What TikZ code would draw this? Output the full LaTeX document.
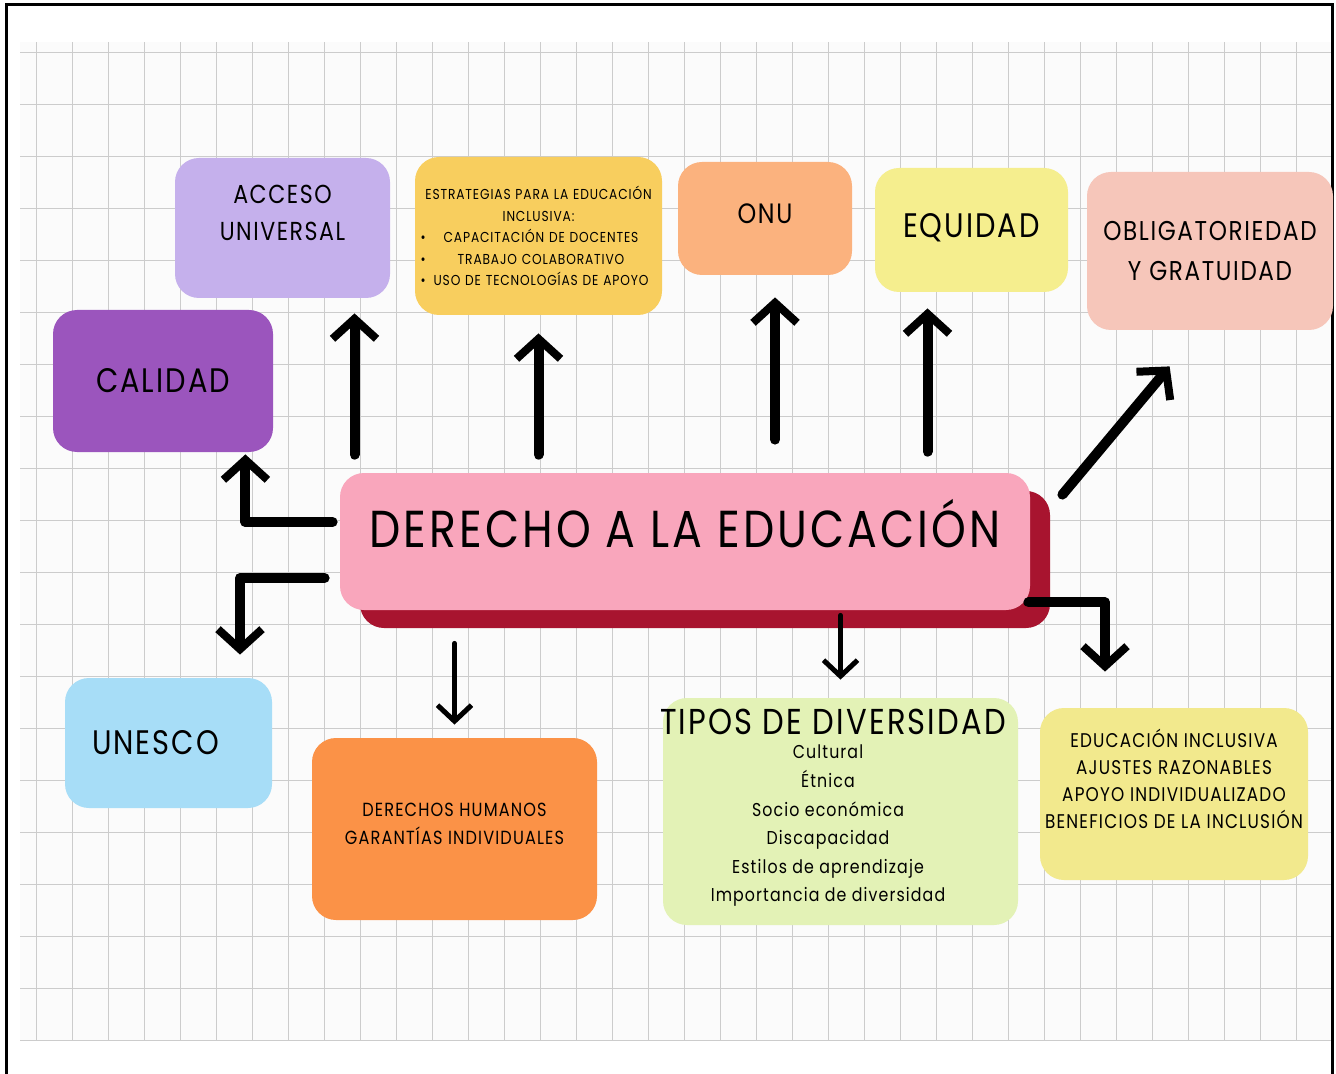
\documentclass[tikz,border=0pt]{standalone}
\usepackage{fontspec}
\newfontfamily\mano[LetterSpace=6,FakeStretch=0.85]{Poppins}
\usetikzlibrary{arrows.meta,shadows}

\definecolor{lavanda}{HTML}{C5B0EC}
\definecolor{mostaza}{HTML}{F8CE5E}
\definecolor{durazno}{HTML}{FBB27E}
\definecolor{limon}{HTML}{F5EE8E}
\definecolor{salmon}{HTML}{F6C6BA}
\definecolor{morado}{HTML}{9B55BD}
\definecolor{rosa}{HTML}{F9A6BC}
\definecolor{vino}{HTML}{A8142F}
\definecolor{celeste}{HTML}{A7DDF7}
\definecolor{naranja}{HTML}{FB9247}
\definecolor{pistacho}{HTML}{E3F2B6}
\definecolor{crema}{HTML}{F2E98D}

\tikzset{
  caja/.style={rounded corners=12pt, align=center, inner sep=2pt, text=black},
  flecha/.style={line width=5pt, line cap=round, line join=round,
    -{Straight Barb[length=10pt,width=22pt,line width=4pt]}},
  flechita/.style={line width=2.5pt, line cap=round,
    -{Straight Barb[length=8pt,width=17pt,line width=2.5pt]}}
}
\newcommand{\tam}[2]{\mano\fontsize{#1}{#2}\selectfont}
% sube el texto dentro de la caja
\newcommand{\subir}[2]{\raisebox{#1}{\begin{tabular}[b]{@{}c@{}}#2\end{tabular}}}

\begin{document}
\begin{tikzpicture}[x=0.5pt,y=-0.5pt]
\useasboundingbox (0,0) rectangle (1336,1074);
% hoja cuadriculada
\fill[gray!3] (20,42) rectangle (1333,1040);
\draw[gray!40, line width=0.4pt, xstep=18pt, ystep=26pt] (20,42) grid (1333,1040);
\draw[line width=1.5pt] (6,1074) -- (6,5) -- (1332,5) -- (1332,1074);

% cajas de arriba
\node[caja, fill=lavanda, minimum width=107.5pt, minimum height=70pt, font=\tam{13}{18.5}] (acceso) at (282.5,228) {\subir{18.5pt}{ACCESO\\UNIVERSAL}};
\node[caja, fill=mostaza, minimum width=123.5pt, minimum height=79pt, text width=118pt, font=\tam{7.2}{10.75}] (estrategias) at (538.5,236)
  {ESTRATEGIAS PARA LA EDUCACIÓN\\INCLUSIVA:\\
   \makebox[\linewidth]{•\hfill CAPACITACIÓN DE DOCENTES\hfill\mbox{}}\\
   \makebox[\linewidth]{•\hfill TRABAJO COLABORATIVO\hfill\mbox{}}\\
   \makebox[\linewidth]{•\hfill USO DE TECNOLOGÍAS DE APOYO\hfill\mbox{}}};
\node[caja, fill=durazno, minimum width=87pt, minimum height=56.5pt, font=\tam{14}{16}] (onu) at (765,218.5) {\subir{6pt}{ONU}};
\node[caja, fill=limon, minimum width=96.5pt, minimum height=62pt, font=\tam{17}{20}] (equidad) at (971.5,230) {\subir{5pt}{EQUIDAD}};
\node[caja, fill=salmon, minimum width=123pt, minimum height=79pt, font=\tam{13.6}{20}] (oblig) at (1210,251) {OBLIGATORIEDAD\\Y GRATUIDAD};
\node[caja, fill=morado, minimum width=110pt, minimum height=71pt, font=\tam{17}{20}] (calidad) at (163,381) {CALIDAD};

% tema central
\node[caja, fill=rosa, minimum width=345pt, minimum height=68.5pt, font=\tam{26}{30},
  drop shadow={fill=vino, opacity=1, shadow xshift=10pt, shadow yshift=-9pt}] (centro) at (685,541.5) {\subir{18pt}{DERECHO A LA EDUCACIÓN}};

% cajas de abajo
\node[caja, fill=celeste, minimum width=103.5pt, minimum height=65pt, font=\tam{17}{20}] (unesco) at (168.5,743) {UNESCO\hspace{13pt}};
\node[caja, fill=naranja, minimum width=142.5pt, minimum height=91pt, font=\tam{9.5}{14}] (derechos) at (454.5,829) {\subir{8pt}{DERECHOS HUMANOS\\GARANTÍAS INDIVIDUALES}};
\node[caja, fill=pistacho, minimum width=177.5pt, minimum height=113.5pt] (tipos) at (840.5,811.5) {};
\node[font=\tam{18}{20}] (tipostit) at (833,722) {TIPOS DE DIVERSIDAD};
\node[align=center, font=\tam{9.3}{14.3}] (tiposlista) at (828,826)
  {Cultural\\Étnica\\Socio económica\\Discapacidad\\Estilos de aprendizaje\\Importancia de diversidad};
\node[caja, fill=crema, minimum width=134pt, minimum height=86pt, font=\tam{9.9}{13.5}] (inclusiva) at (1174,794)
  {\subir{15pt}{EDUCACIÓN INCLUSIVA\\AJUSTES RAZONABLES\\APOYO INDIVIDUALIZADO\\BENEFICIOS DE LA INCLUSIÓN}};

% flechas
\coordinate (pa) at ([xshift=36pt]acceso.south);
\coordinate (pc) at ([xshift=5pt]onu.south);
\coordinate (pd) at ([xshift=-22pt]equidad.south);
\draw[flecha, shorten <=9pt, shorten >=7.5pt] (centro.north -| pa) -- (pa);
\draw[flecha, shorten <=9pt, shorten >=9pt] (centro.north -| estrategias.south) -- (estrategias.south);
\draw[flecha, shorten <=16.5pt, shorten >=11pt] (centro.north -| pc) -- (pc);
\draw[flecha, shorten <=10.5pt, shorten >=8pt] (centro.north -| pd) -- (pd);
\draw[flecha] ([shift={(16pt,-11pt)}]centro.north east) -- ([shift={(41.5pt,-18pt)}]oblig.south west);
\draw[flecha, shorten >=1pt] ([shift={(-3.5pt,9.75pt)}]centro.west) -| ([xshift=-14pt]calidad.south east);
\draw[flecha, shorten >=11.5pt] ([shift={(-7.5pt,-18.25pt)}]centro.west) -| ([xshift=35.75pt]unesco.north);
\draw[flechita, shorten <=16.5pt, shorten >=6.5pt] (centro.south -| derechos.north) -- (derechos.north);
\draw[flechita, shorten <=2.5pt, shorten >=9pt] (centro.south -| tipos.north) -- (tipos.north);
\draw[flecha, shorten >=18pt] ([shift={(-1pt,4pt)}]centro.south east) -| ([xshift=-34.5pt]inclusiva.north);
\end{tikzpicture}
\end{document}
